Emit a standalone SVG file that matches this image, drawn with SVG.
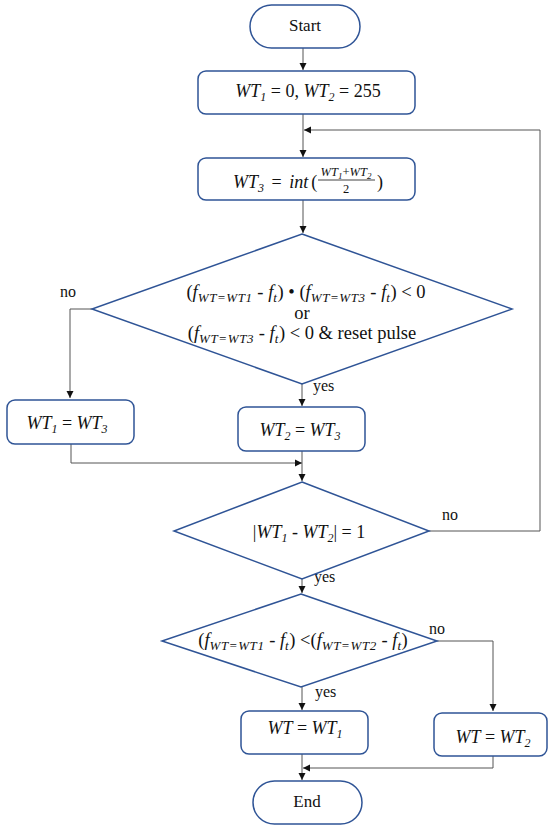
<svg xmlns="http://www.w3.org/2000/svg" width="550" height="829" viewBox="0 0 550 829">
<defs>
<marker id="ah" markerWidth="8" markerHeight="8" refX="7" refY="4" orient="auto" markerUnits="userSpaceOnUse">
<path d="M0,0.5 L7,4 L0,7.5 Z" fill="#111"/>
</marker>
<style>
.node{fill:#fff;stroke:#2f5496;stroke-width:1.5}
.con{fill:none;stroke:#555;stroke-width:1}
text{font-family:"Liberation Serif","Times New Roman","DejaVu Serif",serif;fill:#111}
.t{font-size:17px}
.l{font-size:16px}
.m{font-size:18px}
.f{font-size:12.5px}
.i{font-style:italic}
.s{font-size:12px;font-style:italic}
.fs{font-size:9px;font-style:italic}
.d{font-size:18.5px}
.ds{font-size:13px;font-style:italic;letter-spacing:0.6px}
</style>
</defs>
<rect width="550" height="829" fill="#fff"/>
<g id="connectors">
<path class="con" d="M303,48 V70" marker-end="url(#ah)"/>
<path class="con" d="M303,114 V157" marker-end="url(#ah)"/>
<path class="con" d="M540,531 V130 H304" marker-end="url(#ah)"/>
<path class="con" d="M303,200 V233" marker-end="url(#ah)"/>
<path class="con" d="M92,309 H70 V398" marker-end="url(#ah)"/>
<path class="con" d="M302,384 V406" marker-end="url(#ah)"/>
<path class="con" d="M71,444 V463 H302" marker-end="url(#ah)"/>
<path class="con" d="M302,451 V481" marker-end="url(#ah)"/>
<path class="con" d="M429,531 H540"/>
<path class="con" d="M302,579 V593" marker-end="url(#ah)"/>
<path class="con" d="M437,641 H493 V711" marker-end="url(#ah)"/>
<path class="con" d="M302,687 V710" marker-end="url(#ah)"/>
<path class="con" d="M302,754 V780" marker-end="url(#ah)"/>
<path class="con" d="M493,756 V768 H303" marker-end="url(#ah)"/>
<text class="l" x="68" y="297" text-anchor="middle">no</text>
<text class="l" x="313" y="391">yes</text>
<text class="l" x="442" y="520">no</text>
<text class="l" x="314" y="582">yes</text>
<text class="l" x="429" y="634">no</text>
<text class="l" x="315" y="697">yes</text>
</g>
<g id="start">
<rect class="node" x="250" y="5" width="110" height="43" rx="21.5"/>
<text class="t" x="305" y="31" text-anchor="middle">Start</text>
</g>
<g id="init">
<rect class="node" x="198" y="71" width="217" height="43" rx="8"/>
<text class="m" x="308" y="97" text-anchor="middle"><tspan class="i">WT</tspan><tspan class="s" dy="4">1</tspan><tspan dy="-4"> = 0, </tspan><tspan class="i">WT</tspan><tspan class="s" dy="4">2</tspan><tspan dy="-4"> = 255</tspan></text>
</g>
<g id="mid">
<rect class="node" x="198" y="158" width="217" height="42" rx="8"/>
<text class="m" x="233" y="188"><tspan class="i">WT</tspan><tspan class="s" dy="4">3</tspan><tspan dy="-4" dx="3"> = </tspan><tspan class="i" dx="3">int</tspan><tspan dx="3">(</tspan></text>
<text class="f" x="346" y="176" text-anchor="middle"><tspan class="i">WT</tspan><tspan class="fs" dy="3">1</tspan><tspan dy="-3">+</tspan><tspan class="i">WT</tspan><tspan class="fs" dy="3">2</tspan></text>
<line x1="318" y1="180" x2="375" y2="180" stroke="#111" stroke-width="0.8"/>
<text class="f" x="346" y="193" text-anchor="middle">2</text>
<text class="m" x="377" y="188">)</text>
</g>
<g id="cond1">
<polygon class="node" points="302,234 512,309 302,384 92,309"/>
<text class="d" x="306" y="298" text-anchor="middle">(<tspan class="i">f</tspan><tspan class="ds" dy="4">WT=WT1</tspan><tspan dy="-4"> - </tspan><tspan class="i">f</tspan><tspan class="ds" dy="4">t</tspan><tspan dy="-4">) • (</tspan><tspan class="i">f</tspan><tspan class="ds" dy="4">WT=WT3</tspan><tspan dy="-4"> - </tspan><tspan class="i">f</tspan><tspan class="ds" dy="4">t</tspan><tspan dy="-4">) &lt; 0</tspan></text>
<text class="d" x="302" y="319" text-anchor="middle">or</text>
<text class="d" x="302" y="339" text-anchor="middle">(<tspan class="i">f</tspan><tspan class="ds" dy="4">WT=WT3</tspan><tspan dy="-4"> - </tspan><tspan class="i">f</tspan><tspan class="ds" dy="4">t</tspan><tspan dy="-4">) &lt; 0 &amp; reset pulse</tspan></text>
</g>
<g id="set1">
<rect class="node" x="7" y="400" width="127" height="44" rx="8"/>
<text class="m" x="67" y="429" text-anchor="middle"><tspan class="i">WT</tspan><tspan class="s" dy="4">1</tspan><tspan dy="-4"> = </tspan><tspan class="i">WT</tspan><tspan class="s" dy="4">3</tspan></text>
</g>
<g id="set2">
<rect class="node" x="238" y="407" width="127" height="44" rx="8"/>
<text class="m" x="300" y="436" text-anchor="middle"><tspan class="i">WT</tspan><tspan class="s" dy="4">2</tspan><tspan dy="-4"> = </tspan><tspan class="i">WT</tspan><tspan class="s" dy="4">3</tspan></text>
</g>
<g id="cond2">
<polygon class="node" points="302,482 429,531 302,579 174,531"/>
<text class="m" x="309" y="538" text-anchor="middle">|<tspan class="i">WT</tspan><tspan class="s" dy="4">1</tspan><tspan dy="-4"> - </tspan><tspan class="i">WT</tspan><tspan class="s" dy="4">2</tspan><tspan dy="-4">| = 1</tspan></text>
</g>
<g id="cond3">
<polygon class="node" points="301,594 437,641 301,687 162,641"/>
<text class="d" x="303" y="646" text-anchor="middle">(<tspan class="i">f</tspan><tspan class="ds" dy="4">WT=WT1</tspan><tspan dy="-4"> - </tspan><tspan class="i">f</tspan><tspan class="ds" dy="4">t</tspan><tspan dy="-4">) &lt;(</tspan><tspan class="i">f</tspan><tspan class="ds" dy="4">WT=WT2</tspan><tspan dy="-4"> - </tspan><tspan class="i">f</tspan><tspan class="ds" dy="4">t</tspan><tspan dy="-4">)</tspan></text>
</g>
<g id="out1">
<rect class="node" x="241" y="711" width="127" height="43" rx="8"/>
<text class="m" x="305" y="734" text-anchor="middle"><tspan class="i">WT</tspan> = <tspan class="i">WT</tspan><tspan class="s" dy="4">1</tspan></text>
</g>
<g id="out2">
<rect class="node" x="434" y="713" width="113" height="43" rx="8"/>
<text class="m" x="493" y="743" text-anchor="middle"><tspan class="i">WT</tspan> = <tspan class="i">WT</tspan><tspan class="s" dy="4">2</tspan></text>
</g>
<g id="end">
<rect class="node" x="253" y="781" width="109" height="43" rx="21.5"/>
<text class="t" x="307" y="807" text-anchor="middle">End</text>
</g>
</svg>
